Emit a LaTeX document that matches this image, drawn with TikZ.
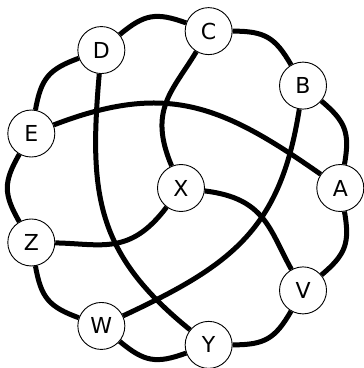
\documentclass[tikz,border=0pt]{standalone}
\usepackage{fontspec}
\setmainfont{DejaVu Sans}
\usetikzlibrary{calc,backgrounds}
\begin{document}
\begin{tikzpicture}[x=1pt,y=1pt,
  vtx/.style={circle,draw,line width=0.9pt,fill=white,minimum size=47pt,inner sep=0pt,
    font=\fontsize{22}{22}\selectfont},
  edge/.style={line width=5pt}]
\useasboundingbox (0,0) rectangle (364,368);
\begin{scope}[shift={(181,180)}]
  \node[vtx] (X) at (0,0) {X};
  \node[vtx] (A) at (0:159.3) {A};
  \node[vtx] (B) at (40:159.3) {B};
  \node[vtx] (C) at (80:159.3) {C};
  \node[vtx] (D) at (120:159.3) {D};
  \node[vtx] (E) at (160:159.3) {E};
  \node[vtx] (Z) at (200:159.3) {Z};
  \node[vtx] (W) at (240:159.3) {W};
  \node[vtx] (Y) at (280:159.3) {Y};
  \node[vtx] (V) at (320:159.3) {V};
\end{scope}
\begin{scope}[on background layer]
  % outer ring
  \draw[edge] (C) .. controls ($(C)+(0:56)$) and ($(B)+(120:56)$) .. (B);
  \draw[edge] (B) .. controls ($(B)+(320:56)$) and ($(A)+(80:56)$) .. (A);
  \draw[edge] (A) .. controls ($(A)+(280:56)$) and ($(V)+(40:56)$) .. (V);
  \draw[edge] (V) .. controls ($(V)+(240:56)$) and ($(Y)+(0:56)$) .. (Y);
  \draw[edge] (Y) .. controls ($(Y)+(200:56)$) and ($(W)+(320:56)$) .. (W);
  \draw[edge] (W) .. controls ($(W)+(160:56)$) and ($(Z)+(280:56)$) .. (Z);
  \draw[edge] (Z) .. controls ($(Z)+(120:56)$) and ($(E)+(240:56)$) .. (E);
  \draw[edge] (E) .. controls ($(E)+(80:56)$) and ($(D)+(200:56)$) .. (D);
  \draw[edge] (D) .. controls ($(D)+(40:56)$) and ($(C)+(160:56)$) .. (C);
  % long chords
  \draw[edge] (E) .. controls ($(E)+(21:145)$) and ($(A)+(145:145)$) .. (A);
  \draw[edge] (Y) .. controls ($(Y)+(141:145)$) and ($(D)+(265:145)$) .. (D);
  \draw[edge] (B) .. controls ($(B)+(261:145)$) and ($(W)+(25:145)$) .. (W);
  % spokes from X
  \draw[edge] (X) .. controls ($(X)+(113:85)$) and ($(C)+(239:70)$) .. (C);
  \draw[edge] (X) .. controls ($(X)+(233:85)$) and ($(Z)+(359:70)$) .. (Z);
  \draw[edge] (X) .. controls ($(X)+(353:85)$) and ($(V)+(119:70)$) .. (V);
\end{scope}
\end{tikzpicture}
\end{document}
